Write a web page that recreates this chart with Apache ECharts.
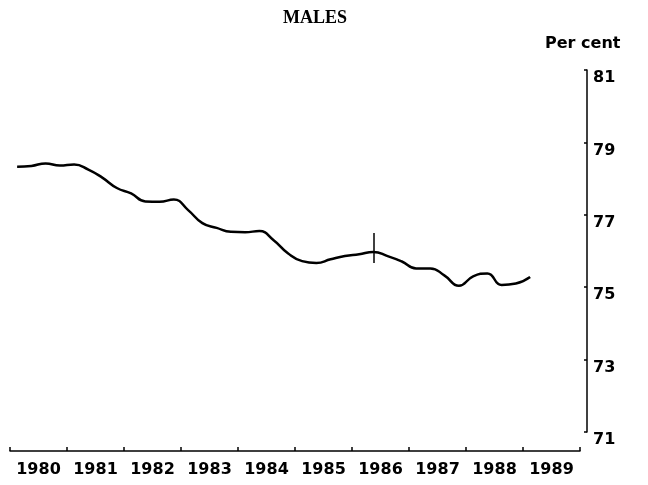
<!DOCTYPE html>
<html>
<head>
<meta charset="utf-8">
<script src="https://cdn.jsdelivr.net/npm/echarts@6/dist/echarts.min.js"></script>
<style>
    html, body { margin: 0; padding: 0; background: #fff; }
    #chart { width: 648px; height: 485px; }
</style>
</head>
<body>
<div id="chart"></div>
<script>
    // years shown on the axis
    const years = ['1980', '1981', '1982', '1983', '1984', '1985', '1986', '1987', '1988', '1989'];
    // quarterly values, from 1980 Q1 to 1989 Q1 (per cent)
    const males = [
        78.33, 78.35, 78.42, 78.36, 78.39, 78.25, 78.02, 77.74,
        77.59, 77.37, 77.36, 77.42, 77.13, 76.77, 76.64, 76.53,
        76.52, 76.55, 76.30, 75.94, 75.72, 75.67, 75.77, 75.86,
        75.91, 75.97, 75.86, 75.71, 75.52, 75.52, 75.32, 75.04,
        75.30, 75.38, 75.06, 75.10, 75.28
    ];
    const yTicks = [71, 73, 75, 77, 79, 81];
    // series break marker at 1986 Q2
    const breakIndex = 25;
    const breakTop = 76.5;
    const breakBottom = 75.67;

    // quarter mid-points on a continuous year scale
    const quarterPos = i => Number(years[0]) + i / 4 + 0.125;
    const lineData = males.map((v, i) => [quarterPos(i), v]);

    const font = 'DejaVu Sans';
    let myChart = echarts.init(document.getElementById('chart'));

    let option = {
        animation: false,
        backgroundColor: '#fff',
        title: [
            {
                text: 'MALES',
                left: 283,
                top: 9,
                padding: 0,
                textStyle: {fontFamily: 'Liberation Serif', fontWeight: 'bold', fontSize: 18, color: '#000'}
            },
            {
                text: 'Per cent',
                left: 545,
                top: 36,
                padding: 0,
                textStyle: {fontFamily: font, fontWeight: 'bold', fontSize: 16, color: '#000'}
            }
        ],
        grid: {
            left: 10,
            right: 68,
            top: 70,
            bottom: 53
        },
        xAxis: [
            {
                type: 'category',
                data: years,
                boundaryGap: true,
                position: 'bottom',
                offset: 19,
                axisLine: {lineStyle: {color: '#000', width: 1.5}},
                axisTick: {show: true, inside: true, length: 4, interval: 0, lineStyle: {color: '#000', width: 1.5}},
                axisLabel: {
                    margin: 11,
                    interval: 0,
                    color: '#000',
                    fontFamily: font,
                    fontWeight: 'bold',
                    fontSize: 16
                },
                splitLine: {show: false}
            },
            {
                type: 'value',
                min: Number(years[0]),
                max: Number(years[years.length - 1]) + 1,
                show: false
            }
        ],
        yAxis: {
            type: 'value',
            position: 'right',
            offset: 7,
            min: yTicks[0],
            max: yTicks[yTicks.length - 1],
            interval: 2,
            axisLine: {show: true, lineStyle: {color: '#000', width: 1.5}},
            axisTick: {show: true, inside: true, length: 3, lineStyle: {color: '#000', width: 1.5}},
            axisLabel: {
                margin: 6,
                verticalAlign: 'top',
                color: '#000',
                fontFamily: font,
                fontWeight: 'bold',
                fontSize: 16
            },
            splitLine: {show: false}
        },
        series: [
            {
                name: 'Males',
                type: 'line',
                xAxisIndex: 1,
                data: lineData,
                smooth: 0.5,
                symbol: 'none',
                lineStyle: {color: '#000', width: 2.5},
                markLine: {
                    silent: true,
                    symbol: 'none',
                    label: {show: false},
                    lineStyle: {color: '#000', width: 1.5, type: 'solid'},
                    data: [[
                        {coord: [quarterPos(breakIndex), breakTop]},
                        {coord: [quarterPos(breakIndex), breakBottom]}
                    ]]
                }
            }
        ]
    };
    myChart.setOption(option, true);
</script>
</body>
</html>
